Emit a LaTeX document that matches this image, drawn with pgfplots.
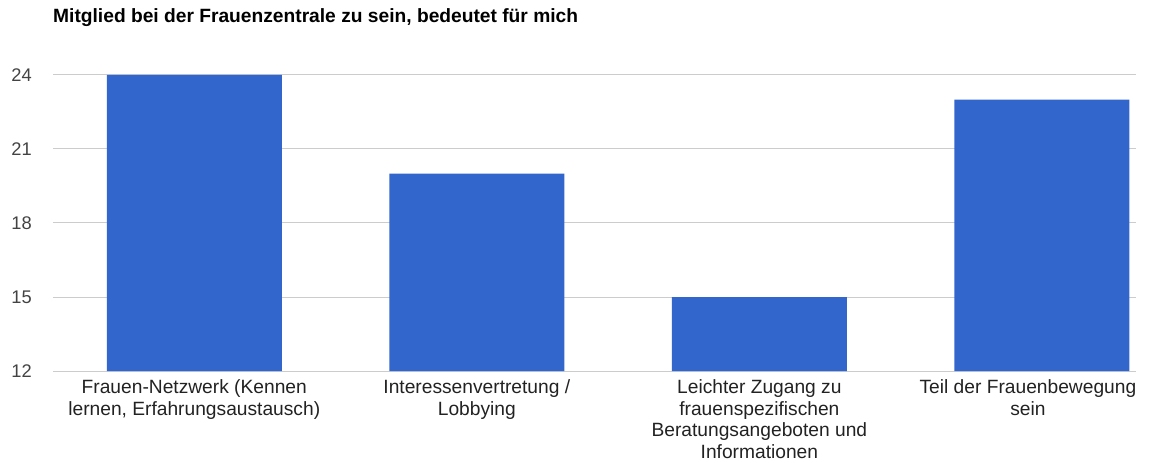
\documentclass[border=0pt]{standalone}
\usepackage{pgfplots}
\pgfplotsset{compat=1.18}
\usepackage{fontspec}
\setmainfont{Liberation Sans}
\definecolor{barblue}{HTML}{3366CC}
\definecolor{txt}{HTML}{222222}
\definecolor{gridc}{HTML}{CCCCCC}
\begin{document}
\begin{tikzpicture}
\begin{axis}[
  scale only axis,
  width=1083pt, height=296pt,
  xmin=-0.5, xmax=3.333,
  ymin=12, ymax=24,
  ytick={12,15,18,21,24},
  xtick={0,1,2},
  xticklabels={{Frauen-Netzwerk (Kennen\\lernen, Erfahrungsaustausch)},{Interessenvertretung /\\Lobbying},{Leichter Zugang zu\\frauenspezifischen\\Beratungsangeboten und\\Informationen}},
  extra x ticks={3},
  extra x tick labels={{Teil der Frauenbewegung\\sein}},
  extra x tick style={xticklabel style={xshift=-14pt}},
  axis line style={draw=none},
  major tick style={draw=none},
  ymajorgrids,
  major grid style={gridc, line width=1pt},
  /pgf/number format/assume math mode=true,
  yticklabel style={font=\fontsize{18.3}{20}\selectfont, text=txt!85, anchor=east, inner sep=0pt, xshift=-21pt},
  xticklabel style={font=\fontsize{19.2}{21.4}\selectfont, text=txt, align=center, anchor=north, inner sep=0pt, yshift=-4.5pt},
  ybar, bar width=175pt,
]
\addplot[fill=barblue, draw=none] coordinates {(0,24) (1,20) (2,15) (3,23)};
\end{axis}
\node[anchor=base west, inner sep=0pt, font=\fontsize{19.2}{22}\selectfont\bfseries] at (0pt,348.5pt) {Mitglied bei der Frauenzentrale zu sein, bedeutet für mich};
\useasboundingbox (-53pt,-92pt) rectangle (1098pt,371pt);
\end{tikzpicture}
\end{document}
